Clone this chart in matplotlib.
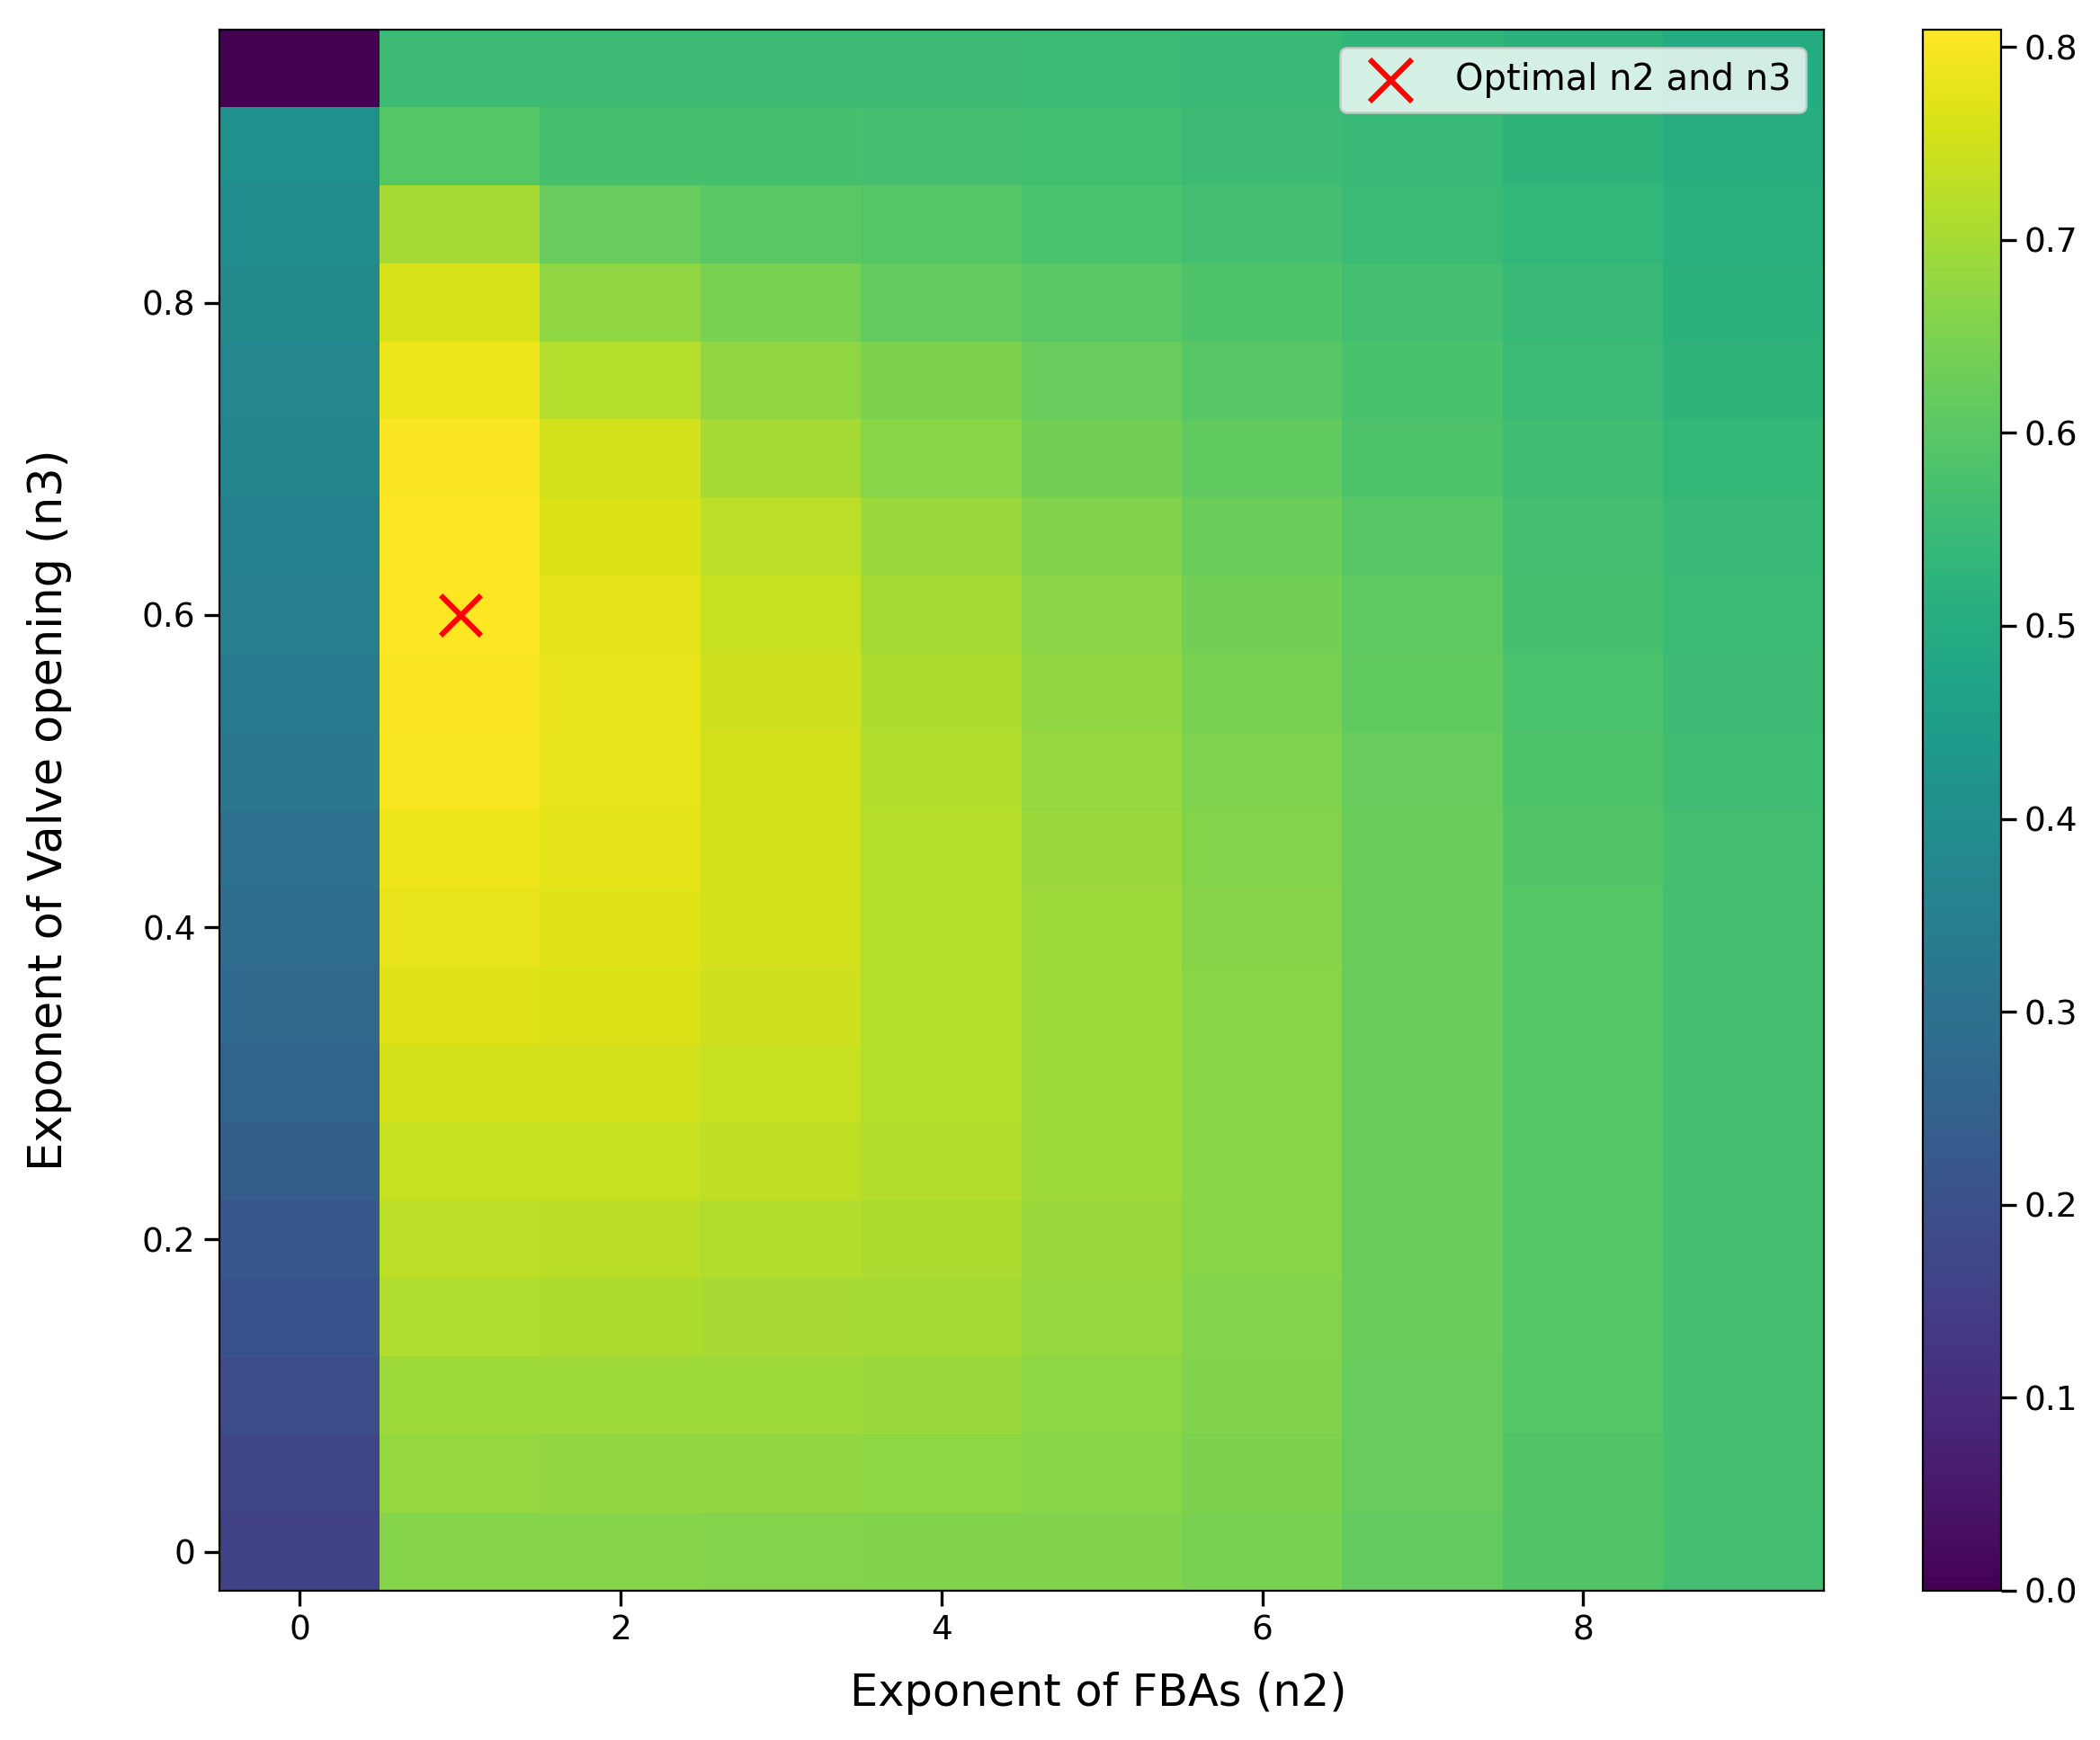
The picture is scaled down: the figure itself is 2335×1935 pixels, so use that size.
import numpy as np
import matplotlib
matplotlib.use("Agg")
import matplotlib.pyplot as plt

# grid of exponents
n2_values = list(range(10))
n3_values = [round(0.05 * i, 2) for i in range(20)]

# score per n2 column, listed from n3 = 0 up to n3 = 0.95
col_n2_0 = [0.155, 0.17, 0.19, 0.205, 0.22, 0.24, 0.26, 0.275, 0.29, 0.305,
            0.32, 0.33, 0.345, 0.355, 0.365, 0.375, 0.385, 0.395, 0.405, 0.0]
col_n2_1 = [0.662, 0.68, 0.692, 0.712, 0.727, 0.742, 0.757, 0.77, 0.782, 0.79,
            0.80, 0.805, 0.809, 0.809, 0.805, 0.79, 0.76, 0.70, 0.595, 0.555]
col_n2_2 = [0.662, 0.678, 0.69, 0.71, 0.725, 0.742, 0.755, 0.765, 0.772, 0.777,
            0.78, 0.783, 0.775, 0.765, 0.755, 0.72, 0.675, 0.622, 0.572, 0.555]
col_n2_3 = [0.66, 0.677, 0.69, 0.703, 0.715, 0.73, 0.74, 0.752, 0.755, 0.755,
            0.755, 0.75, 0.74, 0.727, 0.70, 0.675, 0.645, 0.603, 0.572, 0.555]
col_n2_4 = [0.657, 0.673, 0.687, 0.70, 0.708, 0.715, 0.72, 0.72, 0.72, 0.72,
            0.717, 0.71, 0.70, 0.688, 0.665, 0.648, 0.615, 0.595, 0.57, 0.555]
col_n2_5 = [0.655, 0.665, 0.673, 0.682, 0.688, 0.69, 0.692, 0.69, 0.69, 0.688,
            0.682, 0.676, 0.667, 0.655, 0.637, 0.622, 0.603, 0.58, 0.565, 0.553]
col_n2_6 = [0.645, 0.65, 0.655, 0.66, 0.664, 0.665, 0.665, 0.665, 0.662, 0.658,
            0.652, 0.645, 0.638, 0.628, 0.612, 0.60, 0.585, 0.567, 0.555, 0.545]
col_n2_7 = [0.615, 0.62, 0.62, 0.625, 0.625, 0.625, 0.625, 0.625, 0.625, 0.625,
            0.62, 0.613, 0.607, 0.60, 0.585, 0.578, 0.567, 0.553, 0.545, 0.532]
col_n2_8 = [0.588, 0.59, 0.595, 0.597, 0.597, 0.597, 0.597, 0.597, 0.597, 0.592,
            0.587, 0.58, 0.575, 0.567, 0.562, 0.553, 0.545, 0.535, 0.527, 0.52]
col_n2_9 = [0.568, 0.57, 0.57, 0.57, 0.57, 0.57, 0.57, 0.57, 0.57, 0.567,
            0.56, 0.555, 0.55, 0.545, 0.538, 0.527, 0.52, 0.512, 0.505, 0.497]

best_n2 = 1
best_n3 = 0.6

y_ticks = [0, 0.2, 0.4, 0.6, 0.8]
y_tick_labels = ["0", "0.2", "0.4", "0.6", "0.8"]
x_ticks = [0, 2, 4, 6, 8]

scores = np.column_stack([col_n2_0, col_n2_1, col_n2_2, col_n2_3, col_n2_4,
                          col_n2_5, col_n2_6, col_n2_7, col_n2_8, col_n2_9])

fig = plt.figure(figsize=(11.675, 9.675), dpi=200)
ax = fig.add_axes([0.1045, 0.0858, 0.764, 0.8972])
cax = fig.add_axes([0.9157, 0.0858, 0.037, 0.8972])

dx = n2_values[1] - n2_values[0]
dy = n3_values[1] - n3_values[0]
im = ax.imshow(scores, origin="lower", aspect="auto", cmap="viridis",
               extent=[n2_values[0] - dx / 2, n2_values[-1] + dx / 2,
                       n3_values[0] - dy / 2, n3_values[-1] + dy / 2])

ax.scatter([best_n2], [best_n3], marker="x", color="red", s=260, linewidths=2.2,
           label="Optimal n2 and n3", zorder=3)

ax.set_xticks(x_ticks)
ax.set_yticks(y_ticks)
ax.set_yticklabels(y_tick_labels)
ax.tick_params(labelsize=13.5, length=6, width=1.2)
ax.set_xlabel("Exponent of FBAs (n2)", fontsize=17.8)
ax.xaxis.set_label_coords(0.548, -0.052)
ax.set_ylabel("Exponent of Valve opening (n3)", fontsize=18.3, labelpad=28)
ax.legend(loc="upper right", fontsize=14.4, markerscale=1.05)

cb = fig.colorbar(im, cax=cax)
cb.ax.tick_params(labelsize=13.5, length=6, width=1.2)

fig.savefig("out.png", dpi=200)
